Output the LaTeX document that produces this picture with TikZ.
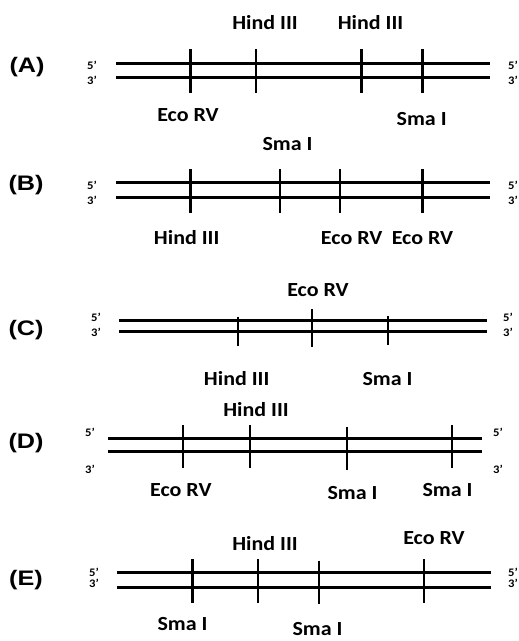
\documentclass[tikz,border=0pt]{standalone}
\usepackage{fontspec}
\setmainfont{Carlito}[FakeStretch=1.1]
\newfontfamily\panelfont{Liberation Sans}[FakeStretch=1.2]
\begin{document}
\begin{tikzpicture}[x=1pt,y=-1pt,
  strand/.style={line width=3pt},
  cut/.style={line width=2.8pt},
  enz/.style={font=\bfseries\fontsize{20}{22}\selectfont, inner sep=0pt, anchor=base},
  panel/.style={font=\panelfont\bfseries\fontsize{21}{23}\selectfont, inner sep=0pt},
  endl/.style={font=\bfseries\fontsize{11.5}{12}\selectfont, inner sep=0pt}]
\useasboundingbox (0,0) rectangle (519,641);

% ---------- (A)
\node[panel] (pA) at (27,67) {(A)};
\draw[strand] (116,63.3) -- (490,63.3);
\draw[strand] (116,77.7) -- (490,77.7);
\foreach \x in {190.7,256,361.7,422.7} \draw[cut] (\x,49.3) -- (\x,93);
\node[endl] (a5l) at (92,65.5) {5’};
\node[endl] (a3l) at (92,80) {3’};
\node[endl] (a5r) at (513,65.5) {5’};
\node[endl] (a3r) at (513,80) {3’};
\node[enz] (aH1) at (265,29.5) {Hind III};
\node[enz] (aH2) at (370.5,29.5) {Hind III};
\node[enz] (aE1) at (188,121.7) {Eco RV};
\node[enz] (aS1) at (421.7,125) {Sma I};

% ---------- (B)
\node[panel] (pB) at (26,185) {(B)};
\draw[strand] (116,182.7) -- (490,182.7);
\draw[strand] (116,197.3) -- (490,197.3);
\foreach \x in {190.7,280,340,422.7} \draw[cut] (\x,169.3) -- (\x,213.3);
\node[endl] (b5l) at (92,185.5) {5’};
\node[endl] (b3l) at (92,200) {3’};
\node[endl] (b5r) at (513,185.5) {5’};
\node[endl] (b3r) at (513,200) {3’};
\node[enz] (bS1) at (287.5,150) {Sma I};
\node[enz] (bH1) at (186.7,244) {Hind III};
\node[enz] (bE1) at (351.7,244) {Eco RV};
\node[enz] (bE2) at (422.5,244) {Eco RV};

% ---------- (C)
\node[panel] (pC) at (26,330) {(C)};
\draw[strand] (119,320) -- (487,320);
\draw[strand] (119,331.7) -- (487,331.7);
\draw[cut] (238,316.7) -- (238,346);
\draw[cut] (312,309.3) -- (312,347.3);
\draw[cut] (388,316) -- (388,345.3);
\node[endl] (c5l) at (96,317.5) {5’};
\node[endl] (c3l) at (96,332) {3’};
\node[endl] (c5r) at (508,317.5) {5’};
\node[endl] (c3r) at (508,332) {3’};
\node[enz] (cE1) at (318,296.7) {Eco RV};
\node[enz] (cH1) at (236.7,385) {Hind III};
\node[enz] (cS1) at (387.5,385) {Sma I};

% ---------- (D)
\node[panel] (pD) at (26,443.5) {(D)};
\draw[strand] (108,438.3) -- (482,438.3);
\draw[strand] (108,451.7) -- (482,451.7);
\draw[cut] (183,425) -- (183,468.3);
\draw[cut] (250,425) -- (250,468.3);
\draw[cut] (347,426.7) -- (347,470);
\draw[cut] (452,425) -- (452,468.3);
\node[endl] (d5l) at (90,432) {5’};
\node[endl] (d3l) at (90,469) {3’};
\node[endl] (d5r) at (498,432) {5’};
\node[endl] (d3r) at (498,469) {3’};
\node[enz] (dH1) at (256,416.7) {Hind III};
\node[enz] (dE1) at (180.8,496.7) {Eco RV};
\node[enz] (dS1) at (352.5,499) {Sma I};
\node[enz] (dS2) at (447.5,496.7) {Sma I};

% ---------- (E)
\node[panel] (pE) at (26,580.5) {(E)};
\draw[strand] (117,572.3) -- (491,572.3);
\draw[strand] (117,587.3) -- (491,587.3);
\draw[cut] (192.7,559.3) -- (192.7,602.7);
\draw[cut] (258,559.3) -- (258,602.7);
\draw[cut] (319,560.7) -- (319,604);
\draw[cut] (424,559.3) -- (424,603.3);
\node[endl] (e5l) at (94,572.5) {5’};
\node[endl] (e3l) at (94,583) {3’};
\node[endl] (e5r) at (513,572.5) {5’};
\node[endl] (e3r) at (513,583) {3’};
\node[enz] (eH1) at (265,550) {Hind III};
\node[enz] (eE1) at (434,544) {Eco RV};
\node[enz] (eS1) at (182.5,630.7) {Sma I};
\node[enz] (eS2) at (317.5,635.5) {Sma I};
\end{tikzpicture}
\end{document}
